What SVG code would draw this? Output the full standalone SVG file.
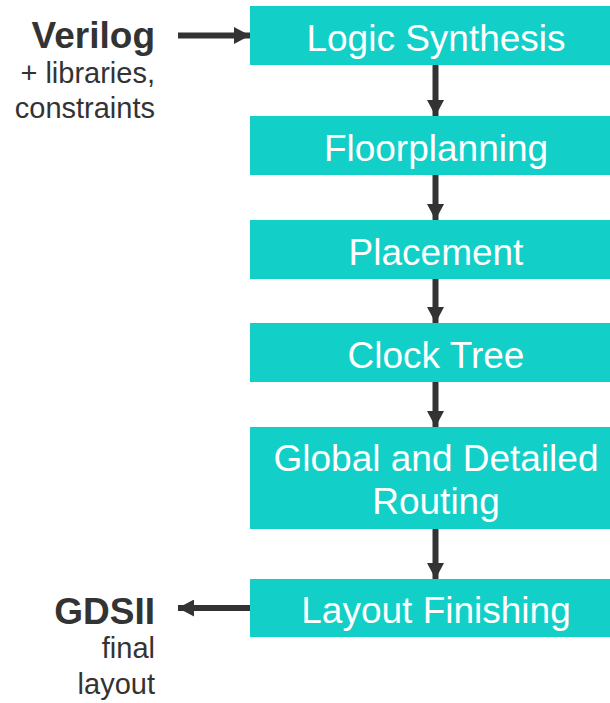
<svg xmlns="http://www.w3.org/2000/svg" width="610" height="703" viewBox="0 0 610 703">
<style>
.box{fill:#12CFC8;}
.lbl{font-family:"Liberation Sans",Arial,sans-serif;font-size:37px;fill:#ffffff;text-anchor:middle;}
.big{font-family:"Liberation Sans",Arial,sans-serif;font-size:37px;font-weight:bold;fill:#333333;text-anchor:end;}
.small{font-family:"Liberation Sans",Arial,sans-serif;font-size:29px;fill:#333333;text-anchor:end;}
.conn{stroke:#333333;stroke-width:6;fill:none;marker-end:url(#ah);}
</style>
<defs>
<marker id="ah" markerUnits="userSpaceOnUse" markerWidth="17" markerHeight="17" refX="16" refY="8.5" orient="auto">
<path d="M0,0 L16,8.5 L0,17 Z" fill="#333333"/>
</marker>
</defs>
<rect width="610" height="703" fill="#ffffff"/>
<g id="n-verilog">
<text class="big" x="155" y="48">Verilog</text>
<text class="small" x="155" y="83">+ libraries,</text>
<text class="small" x="155" y="118">constraints</text>
</g>
<g id="n-logic">
<rect class="box" x="250" y="6" width="370" height="59"/>
<text class="lbl" x="436" y="51">Logic Synthesis</text>
</g>
<g id="n-floor">
<rect class="box" x="250" y="116" width="370" height="59"/>
<text class="lbl" x="436" y="161">Floorplanning</text>
</g>
<g id="n-place">
<rect class="box" x="250" y="220" width="370" height="59"/>
<text class="lbl" x="436" y="265">Placement</text>
</g>
<g id="n-clock">
<rect class="box" x="250" y="323" width="370" height="59"/>
<text class="lbl" x="436" y="368">Clock Tree</text>
</g>
<g id="n-route">
<rect class="box" x="250" y="427" width="370" height="102"/>
<text class="lbl" x="436" y="471">Global and Detailed</text>
<text class="lbl" x="436" y="514">Routing</text>
</g>
<g id="n-finish">
<rect class="box" x="250" y="579" width="370" height="58"/>
<text class="lbl" x="436" y="623">Layout Finishing</text>
</g>
<g id="n-gdsii">
<text class="big" x="155" y="624">GDSII</text>
<text class="small" x="155" y="658">final</text>
<text class="small" x="155" y="694">layout</text>
</g>
<g id="connectors">
<line class="conn" x1="178" y1="35.5" x2="250" y2="35.5"/>
<line class="conn" x1="435.5" y1="65" x2="435.5" y2="116"/>
<line class="conn" x1="435.5" y1="175" x2="435.5" y2="220"/>
<line class="conn" x1="435.5" y1="279" x2="435.5" y2="323"/>
<line class="conn" x1="435.5" y1="382" x2="435.5" y2="427"/>
<line class="conn" x1="435.5" y1="529" x2="435.5" y2="579"/>
<line class="conn" x1="250" y1="608" x2="178" y2="608"/>
</g>
</svg>
